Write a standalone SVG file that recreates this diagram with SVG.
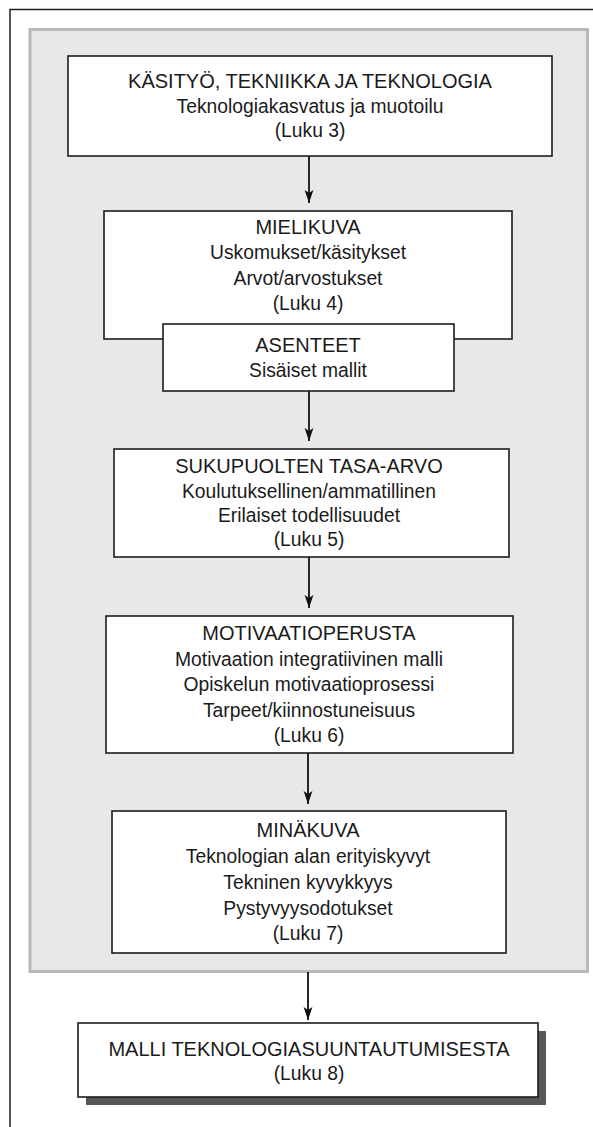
<svg xmlns="http://www.w3.org/2000/svg" width="593" height="1127" viewBox="0 0 593 1127">
  <defs>
    <!-- filled arrowhead drawn along +x; orient="auto" turns it to follow the line -->
    <marker id="arrow" markerUnits="userSpaceOnUse" markerWidth="14" markerHeight="10" refX="13" refY="5" orient="auto" viewBox="0 0 14 10">
      <path d="M0,0.6 L13,5 L0,9.4 L3,5 Z" fill="#111"/>
    </marker>
    <style>
      .frame { fill: none; stroke: #1e1e1e; stroke-width: 1.5; }
      .panel { fill: #e8e8e8; stroke: #b9b9b9; stroke-width: 3; }
      .box { fill: #ffffff; stroke: #1c1c1c; stroke-width: 1.6; }
      .shadow { fill: #575757; }
      .conn { fill: none; stroke: #111; stroke-width: 1.8; marker-end: url(#arrow); }
      text { font-family: "Liberation Sans", Arial, sans-serif; fill: #1a1a1a; text-anchor: middle; }
      .t { font-size: 20px; }
      .s { font-size: 19.3px; }
    </style>
  </defs>

  <!-- page frame and shaded panel -->
  <path class="frame" d="M10,1127 V9.5 H593"/>
  <rect class="panel" x="30" y="29.5" width="557.5" height="942"/>

  <!-- connectors -->
  <g id="connectors">
    <line class="conn" x1="309" y1="156" x2="309" y2="203"/>
    <line class="conn" x1="309" y1="391" x2="309" y2="441"/>
    <line class="conn" x1="309" y1="557" x2="309" y2="608"/>
    <line class="conn" x1="308" y1="753" x2="308" y2="804"/>
    <line class="conn" x1="308" y1="972" x2="308" y2="1020"/>
  </g>

  <g id="kasityo">
    <rect class="box" x="68" y="56" width="484" height="100"/>
    <text class="t" x="310" y="88">KÄSITYÖ, TEKNIIKKA JA TEKNOLOGIA</text>
    <text class="s" x="310" y="113">Teknologiakasvatus ja muotoilu</text>
    <text class="s" x="310" y="137">(Luku 3)</text>
  </g>

  <g id="mielikuva">
    <rect class="box" x="104" y="211" width="408" height="128"/>
    <text class="t" x="308" y="234">MIELIKUVA</text>
    <text class="s" x="308" y="259">Uskomukset/käsitykset</text>
    <text class="s" x="308" y="285">Arvot/arvostukset</text>
    <text class="s" x="308" y="310">(Luku 4)</text>
  </g>

  <g id="asenteet">
    <rect class="box" x="163" y="324" width="291" height="67"/>
    <text class="t" x="308" y="352">ASENTEET</text>
    <text class="s" x="308" y="377">Sisäiset mallit</text>
  </g>

  <g id="tasa-arvo">
    <rect class="box" x="114" y="449" width="395" height="108"/>
    <text class="t" x="309" y="473">SUKUPUOLTEN TASA-ARVO</text>
    <text class="s" x="309" y="498">Koulutuksellinen/ammatillinen</text>
    <text class="s" x="309" y="522">Erilaiset todellisuudet</text>
    <text class="s" x="309" y="546">(Luku 5)</text>
  </g>

  <g id="motivaatio">
    <rect class="box" x="106" y="616" width="407" height="137"/>
    <text class="t" x="309" y="640">MOTIVAATIOPERUSTA</text>
    <text class="s" x="309" y="666">Motivaation integratiivinen malli</text>
    <text class="s" x="309" y="691">Opiskelun motivaatioprosessi</text>
    <text class="s" x="309" y="717">Tarpeet/kiinnostuneisuus</text>
    <text class="s" x="309" y="742">(Luku 6)</text>
  </g>

  <g id="minakuva">
    <rect class="box" x="112" y="811" width="394" height="142"/>
    <text class="t" x="308" y="837">MINÄKUVA</text>
    <text class="s" x="308" y="863">Teknologian alan erityiskyvyt</text>
    <text class="s" x="308" y="889">Tekninen kyvykkyys</text>
    <text class="s" x="308" y="915">Pystyvyysodotukset</text>
    <text class="s" x="308" y="940">(Luku 7)</text>
  </g>

  <g id="malli">
    <rect class="shadow" x="86" y="1031" width="460" height="74"/>
    <rect class="box" x="78" y="1023" width="460" height="74"/>
    <text class="t" x="309" y="1056">MALLI TEKNOLOGIASUUNTAUTUMISESTA</text>
    <text class="s" x="309" y="1080">(Luku 8)</text>
  </g>
</svg>
